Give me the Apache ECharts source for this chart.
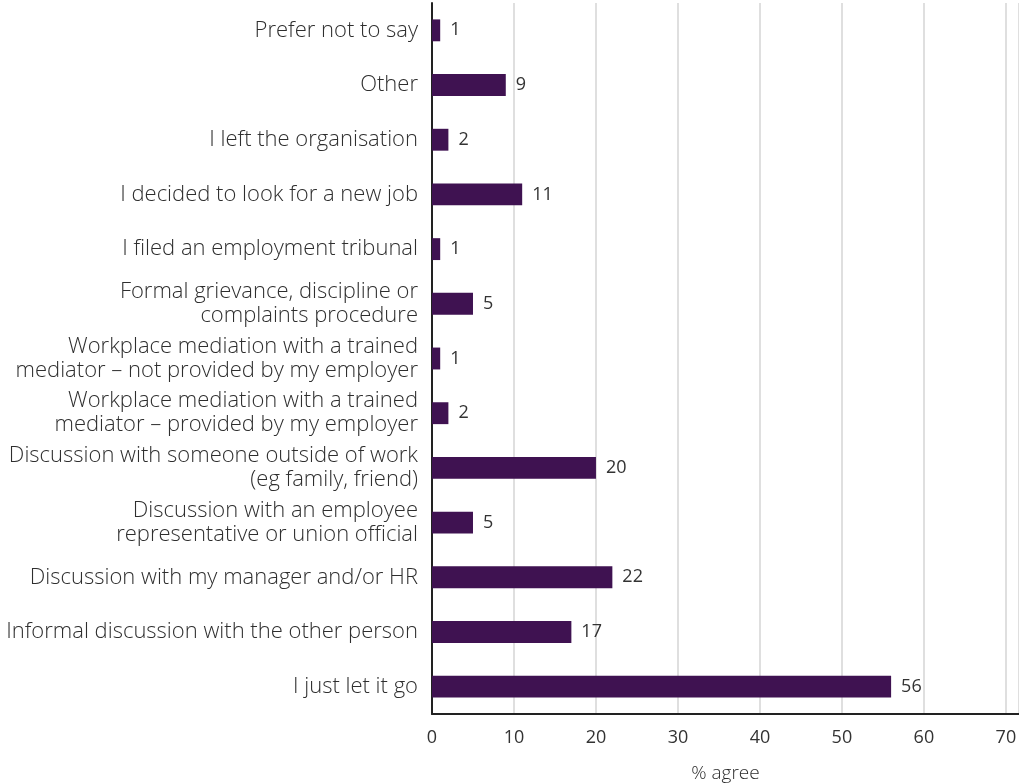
<!DOCTYPE html>
<html>
<head>
<meta charset="utf-8">
<script src="https://cdn.jsdelivr.net/npm/echarts@6/dist/echarts.min.js"></script>
<style>
  html, body { margin: 0; padding: 0; background: #fff; }
  #chart { width: 1019px; height: 783px; }
</style>
</head>
<body>
<div id="chart"></div>
<script>
// Responses, listed bottom to top as drawn on the category axis
const categories = [
  'I just let it go',
  'Informal discussion with the other person',
  'Discussion with my manager and/or HR',
  'Discussion with an employee\nrepresentative or union official',
  'Discussion with someone outside of work\n(eg family, friend)',
  'Workplace mediation with a trained\nmediator – provided by my employer',
  'Workplace mediation with a trained\nmediator – not provided by my employer',
  'Formal grievance, discipline or\ncomplaints procedure',
  'I filed an employment tribunal',
  'I decided to look for a new job',
  'I left the organisation',
  'Other',
  'Prefer not to say'
];
const agreePct = [56, 17, 22, 5, 20, 2, 1, 5, 1, 11, 2, 9, 1];
const xTicks = [0, 10, 20, 30, 40, 50, 60, 70];

const textColor = '#2e2e2e';
const fontFamily = '"Open Sans", Lato, sans-serif';
const lightWeight = 300;

const chart = echarts.init(document.getElementById('chart'));
chart.setOption({
  animation: false,
  grid: { left: 432, right: 0, top: 3, bottom: 69, containLabel: false, outerBoundsMode: 'none' },
  xAxis: {
    type: 'value',
    min: 0,
    max: 71.6,
    interval: 10,
    name: '% agree',
    nameLocation: 'middle',
    nameGap: 50,
    nameTextStyle: { color: textColor, fontSize: 19, fontFamily: fontFamily, fontWeight: lightWeight },
    axisLine: { show: true, lineStyle: { color: '#222', width: 2 } },
    axisTick: { show: false },
    axisLabel: {
      color: '#333', fontSize: 18, fontFamily: fontFamily, fontWeight: 'normal', margin: 15,
      showMaxLabel: false,
      formatter: v => (xTicks.indexOf(v) >= 0 ? String(v) : '')
    },
    splitLine: { show: true, lineStyle: { color: '#d4d4d4', width: 1.5 } }
  },
  yAxis: {
    type: 'category',
    data: categories,
    axisLine: { show: true, lineStyle: { color: '#222', width: 2 } },
    axisTick: { show: false },
    axisLabel: {
      color: textColor, fontSize: 22, fontFamily: fontFamily, fontWeight: lightWeight, margin: 14,
      lineHeight: 24, align: 'right'
    }
  },
  series: [{
    type: 'bar',
    data: agreePct,
    barCategoryGap: '60%',
    itemStyle: { color: '#3f1251' },
    label: {
      show: true, position: 'right', distance: 10,
      color: '#333', fontSize: 18, fontFamily: fontFamily, fontWeight: 'normal'
    }
  }]
});
</script>
</body>
</html>
